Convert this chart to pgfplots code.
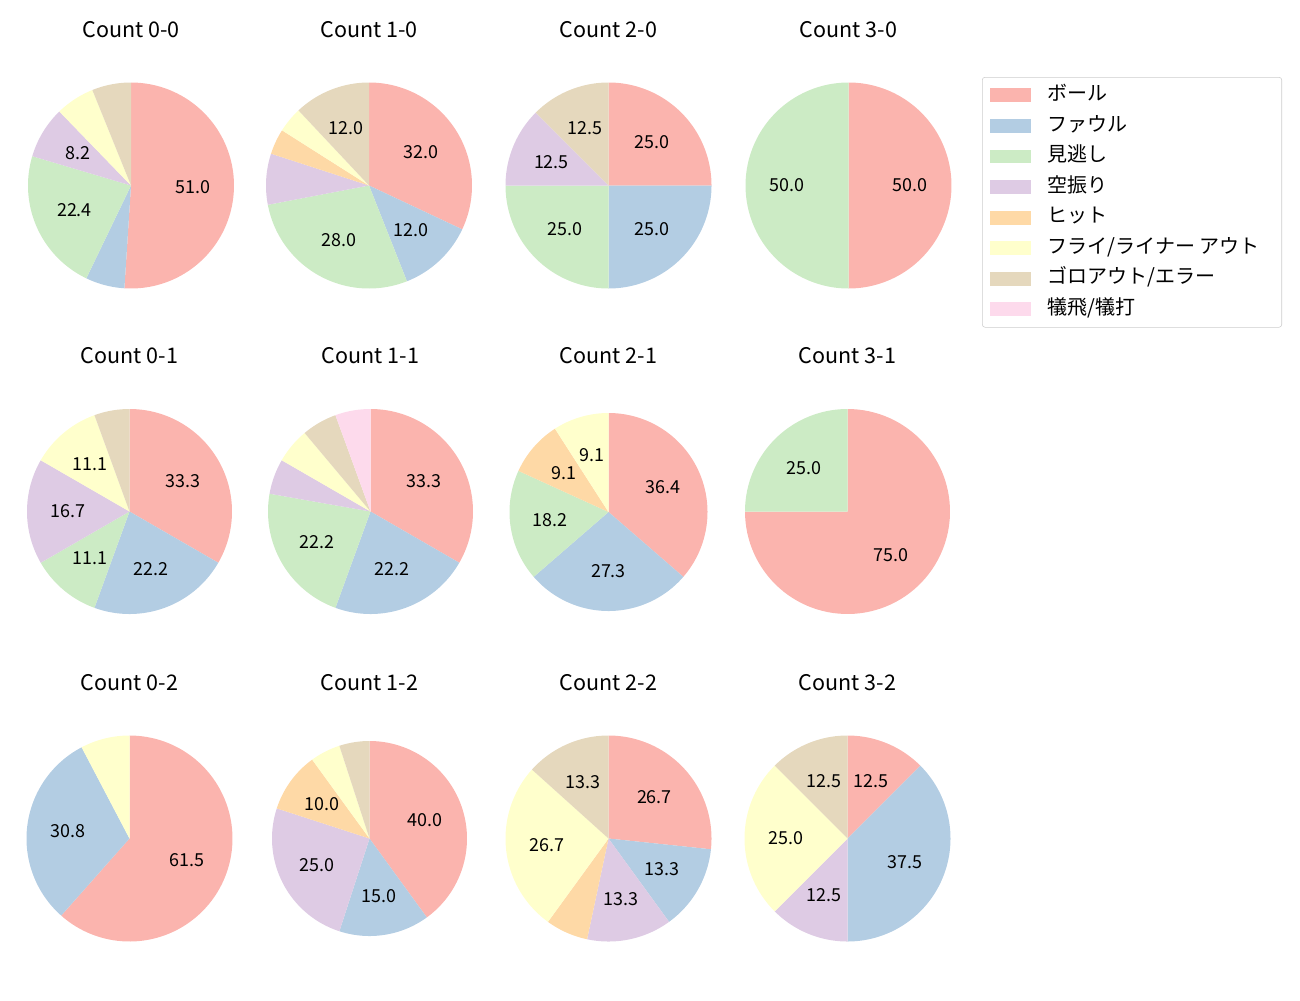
\documentclass[border=0pt]{standalone}
\usepackage{fontspec}
\setmainfont{Noto Sans CJK JP}
\usepackage{pgfplots}
\pgfplotsset{compat=1.18}
\definecolor{pie1}{HTML}{FBB4AE}
\definecolor{pie2}{HTML}{B3CDE3}
\definecolor{pie3}{HTML}{CCEBC5}
\definecolor{pie4}{HTML}{DECBE4}
\definecolor{pie5}{HTML}{FED9A6}
\definecolor{pie6}{HTML}{FFFFCC}
\definecolor{pie7}{HTML}{E5D8BD}
\definecolor{pie8}{HTML}{FDDAEC}
\newcommand{\titlefont}{\fontsize{15.5}{18}\selectfont}
\newcommand{\labelfont}{\fontsize{12.9}{15}\selectfont}
\newcommand{\legfont}{\fontsize{14.4}{17}\selectfont}
\pgfplotsset{
  pieaxis/.style={scale only axis, hide axis, xmin=-1, xmax=1, ymin=-1, ymax=1,
    anchor=center, clip=false,
    title style={at={(0.5,0.5)}, anchor=base, yshift=100.8pt, font=\titlefont}}
}
\tikzset{pielabel/.style={font=\labelfont, inner sep=0pt, anchor=center}}
% #1 x, #2 y, #3 diameter, #4 title, #5 counts (ボール, ファウル, 見逃し, 空振り, ヒット, フライ/ライナー アウト, ゴロアウト/エラー, 犠飛/犠打)
\newcommand{\piechart}[5]{%
\begin{axis}[pieaxis, at={(#1,#2)}, width=#3, height=#3, title={#4}]
\def\pctot{0}%
\pgfplotsforeachungrouped \pcv in {#5}{\pgfmathsetmacro{\pctot}{\pctot+\pcv}}%
\def\pccum{0}\def\pcidx{0}%
\pgfplotsforeachungrouped \pcv in {#5}{%
  \pgfmathtruncatemacro{\pcidx}{\pcidx+1}%
  \ifdim\pcv pt>0pt
    \pgfmathsetmacro{\pcaone}{90-360*(\pccum/\pctot)}%
    \pgfmathsetmacro{\pcatwo}{90-360*((\pccum+\pcv)/\pctot)}%
    \pgfmathsetmacro{\pcamid}{(\pcaone+\pcatwo)/2}%
    \pgfmathsetmacro{\pcpct}{100*(\pcv/\pctot)}%
    \pgfmathsetmacro{\pclx}{0.6*cos(\pcamid)}%
    \pgfmathsetmacro{\pcly}{0.6*sin(\pcamid)}%
    \edef\pccmd{\noexpand\addplot[fill=pie\pcidx, draw=none, domain=\pcatwo:\pcaone, samples=90] ({cos(x)},{sin(x)}) -- (axis cs:0,0) -- cycle;}%
    \pccmd
    \pgfmathtruncatemacro{\pcshow}{\pcpct>8.1}%
    \ifnum\pcshow=1
      \pgfmathtruncatemacro{\pctn}{round(10*\pcpct)}%
      \pgfmathtruncatemacro{\pcip}{\pctn/10}%
      \pgfmathtruncatemacro{\pcdp}{\pctn-10*\pcip}%
      \edef\pccmd{\noexpand\node[pielabel] at (axis cs:\pclx,\pcly) {\pcip.\pcdp};}%
      \pccmd
    \fi
    \pgfmathsetmacro{\pccum}{\pccum+\pcv}%
  \fi
}%
\end{axis}}
\begin{document}
\begin{tikzpicture}
\path (0pt,0pt) rectangle (936pt,-720pt);
% row 1
\piechart{94.32pt}{-133.56pt}{148.32pt}{Count 0-0}{25,3,11,4,0,3,3,0}
\piechart{265.68pt}{-133.56pt}{148.32pt}{Count 1-0}{8,3,7,2,1,1,3,0}
\piechart{438.12pt}{-133.56pt}{148.32pt}{Count 2-0}{2,2,2,1,0,0,1,0}
\piechart{610.92pt}{-133.56pt}{148.32pt}{Count 3-0}{1,0,1,0,0,0,0,0}
% row 2
\piechart{93.24pt}{-368.28pt}{147.6pt}{Count 0-1}{6,4,2,3,0,2,1,0}
\piechart{266.76pt}{-368.28pt}{147.6pt}{Count 1-1}{6,4,4,1,0,1,1,1}
\piechart{438.12pt}{-368.64pt}{142.56pt}{Count 2-1}{4,3,2,0,1,1,0,0}
\piechart{610.2pt}{-368.28pt}{147.6pt}{Count 3-1}{3,0,1,0,0,0,0,0}
% row 3
\piechart{93.24pt}{-603.72pt}{148.32pt}{Count 0-2}{8,4,0,0,0,1,0,0}
\piechart{266.04pt}{-603.72pt}{140.4pt}{Count 1-2}{8,3,0,5,2,1,1,0}
\piechart{438.12pt}{-603.72pt}{148.32pt}{Count 2-2}{4,2,0,2,1,4,2,0}
\piechart{610.2pt}{-603.72pt}{148.32pt}{Count 3-2}{1,3,0,1,0,2,1,0}
% legend
\begin{axis}[at={(707.04pt,-55.44pt)}, anchor=north west, scale only axis,
  width=10pt, height=10pt, hide axis, xmin=0, xmax=1, ymin=0, ymax=1,
  legend cell align=left,
  legend style={at={(0,1)}, anchor=north west, draw=black!20, rounded corners=2pt,
    fill=white, font=\legfont, inner xsep=5.76pt, inner ysep=5.75pt, row sep=7.5pt,
    column sep=12pt, nodes={inner sep=0pt, text height=11pt, text depth=3.5pt}},
  legend image code/.code={\path[#1, draw=none, sharp corners] (0pt,-5pt) rectangle (29.5pt,5pt);}]
\addlegendimage{fill=pie1}\addlegendentry{ボール}
\addlegendimage{fill=pie2}\addlegendentry{ファウル}
\addlegendimage{fill=pie3}\addlegendentry{見逃し}
\addlegendimage{fill=pie4}\addlegendentry{空振り}
\addlegendimage{fill=pie5}\addlegendentry{ヒット}
\addlegendimage{fill=pie6}\addlegendentry{フライ/ライナー アウト\kern10pt\null}
\addlegendimage{fill=pie7}\addlegendentry{ゴロアウト/エラー}
\addlegendimage{fill=pie8}\addlegendentry{犠飛/犠打}
\end{axis}
\end{tikzpicture}
\end{document}
